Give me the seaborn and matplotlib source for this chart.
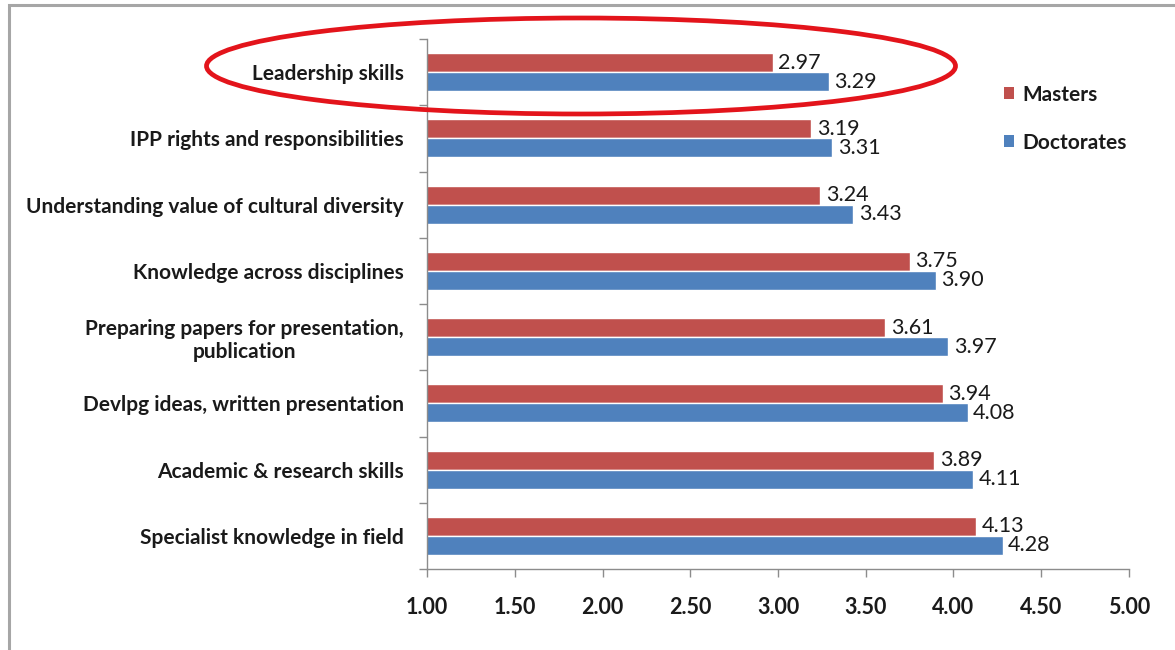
import matplotlib
matplotlib.use("Agg")
import matplotlib.pyplot as plt
from matplotlib.patches import Ellipse, Rectangle, Patch
from matplotlib.ticker import FixedLocator
import pandas as pd
import seaborn as sns

# Skill areas, listed top to bottom
skills = [
    "Leadership skills",
    "IPP rights and responsibilities",
    "Understanding value of cultural diversity",
    "Knowledge across disciplines",
    "Preparing papers for presentation,\npublication",
    "Devlpg ideas, written presentation",
    "Academic & research skills",
    "Specialist knowledge in field",
]
masters = [2.97, 3.19, 3.24, 3.75, 3.61, 3.94, 3.89, 4.13]
doctorates = [3.29, 3.31, 3.43, 3.90, 3.97, 4.08, 4.11, 4.28]
groups = ["Masters", "Doctorates"]
x_ticks = [1.00, 1.50, 2.00, 2.50, 3.00, 3.50, 4.00, 4.50, 5.00]

df = pd.DataFrame({
    "skill": skills * 2,
    "score": masters + doctorates,
    "group": [groups[0]] * len(skills) + [groups[1]] * len(skills),
})

sns.set_theme(style="white")
plt.rcParams["font.family"] = ["Lato", "DejaVu Sans"]

W, H = 1175, 650
fig = plt.figure(figsize=(W / 100, H / 100), dpi=100)
fig.patch.set_facecolor("white")

# Plot area in pixel terms: x 427..1129, y 39..569
ax = fig.add_axes([427 / W, 1 - 569 / H, (1129 - 427) / W, (569 - 39) / H])

palette = {"Masters": "#C0504D", "Doctorates": "#4F81BD"}
sns.barplot(
    data=df, y="skill", x="score", hue="group", order=skills,
    hue_order=groups, palette=palette, orient="h", width=0.574,
    saturation=1, ax=ax, legend=False, errorbar=None,
)

ax.set_xlim(1, 5)
ax.set_ylim(len(skills) - 0.5, -0.5)
ax.set_xlabel("")
ax.set_ylabel("")

# Value labels at the bar ends
for cont in ax.containers:
    ax.bar_label(cont, fmt="%.2f", padding=4, fontsize=15.5, color="#1a1a1a")

# Axes styling
for side in ["top", "right"]:
    ax.spines[side].set_visible(False)
for side in ["left", "bottom"]:
    ax.spines[side].set_color("#8c8c8c")
    ax.spines[side].set_linewidth(1.0)

ax.xaxis.set_major_locator(FixedLocator(x_ticks))
ax.set_xticklabels([f"{t:.2f}" for t in x_ticks], fontsize=15.5,
                   fontweight="bold", color="#1a1a1a")
ax.tick_params(axis="x", which="major", direction="out", length=6,
               width=1, color="#8c8c8c", pad=14, bottom=True)

ax.set_yticks(range(len(skills)))
ax.set_yticklabels(skills, fontsize=15, fontweight="bold", color="#1a1a1a",
                   multialignment="center")
ax.tick_params(axis="y", which="major", length=0, pad=16.5, left=True)
ax.yaxis.set_minor_locator(FixedLocator([i - 0.5 for i in range(len(skills) + 1)]))
ax.tick_params(axis="y", which="minor", direction="out", length=6,
               width=1, color="#8c8c8c", left=True)
ax.grid(False)

# Legend
handles = [Patch(facecolor=palette[g], edgecolor="none", label=g) for g in groups]
leg = fig.legend(handles=handles, loc="upper left",
                 bbox_to_anchor=(985 / W, 1 - 66 / H), frameon=False,
                 handlelength=0.5, handleheight=0.5, handletextpad=0.4,
                 labelspacing=1.34, prop={"size": 15, "weight": "bold"})
for t in leg.get_texts():
    t.set_color("#1a1a1a")

# Outer chart frame
fig.add_artist(Rectangle((9 / W, -0.1), 1.2, 1 - 5 / H + 0.1,
                         transform=fig.transFigure, fill=False,
                         edgecolor="#a6a6a6", linewidth=2.2))

# Highlight ring around the leadership row
fig.add_artist(Ellipse((581 / W, 1 - 66 / H), 749 / W, 96 / H,
                       transform=fig.transFigure, fill=False,
                       edgecolor="#E3141B", linewidth=3.4, zorder=10))

fig.savefig("out.png", dpi=100, facecolor="white")
